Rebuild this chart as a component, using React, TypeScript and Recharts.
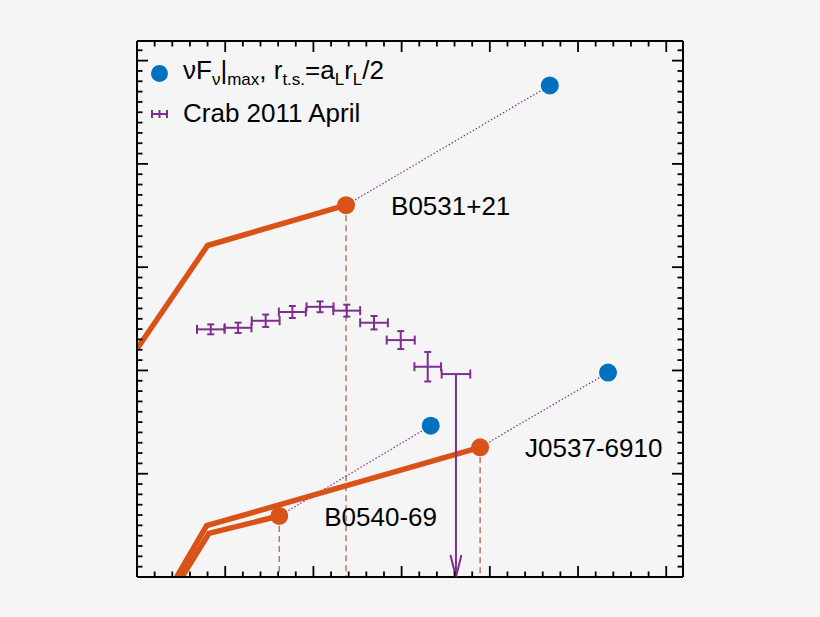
import {
  ComposedChart,
  Line,
  Scatter,
  ErrorBar,
  XAxis,
  YAxis,
  Legend,
} from "recharts";

const ORANGE = "#D95319";
const BLUE = "#0072BD";
const PURPLE = "#7E2F8E";
const DROP = "#B9745D";
const FONT = "'Liberation Sans', Arial, Helvetica, sans-serif";

// axis frame (no labels in the figure), major ticks on integers
const xDomain = [0, 6.19];
const yDomain = [0, 5.19];
const xTicks = Array.from({ length: 31 }, (_, i) => i / 5);
const yTicks = Array.from({ length: 52 }, (_, i) => i / 10);

// pulsars
const pulsarNames = ["B0531+21", "J0537-6910", "B0540-69"];
const peakX = [2.37, 3.89, 1.613];
const peakY = [3.6, 1.256, 0.591];
const maxX = [4.68, 5.34, 3.33];
const maxY = [4.76, 1.98, 1.465];

// broken power-law spectra
const crabSpectrum = [
  { x: 0, y: 2.21 },
  { x: 0.8, y: 3.21 },
  { x: 2.37, y: 3.6 },
];
const j0537Spectrum = [
  { x: 0.45, y: 0 },
  { x: 0.79, y: 0.497 },
  { x: 3.89, y: 1.256 },
];
const b0540Spectrum = [
  { x: 0.51, y: 0 },
  { x: 0.816, y: 0.423 },
  { x: 1.613, y: 0.591 },
];

// Crab 2011 April flare
const flareX = [0.836, 1.146, 1.459, 1.761, 2.075, 2.378, 2.687, 2.99, 3.296];
const flareY = [2.398, 2.413, 2.481, 2.566, 2.616, 2.579, 2.462, 2.294, 2.036];
const flareXErr = [0.156, 0.152, 0.158, 0.153, 0.153, 0.152, 0.157, 0.159, 0.151];
const flareYErr = [0.048, 0.05, 0.06, 0.058, 0.052, 0.058, 0.065, 0.087, 0.143];
const ulX = 3.616;
const ulY = 1.965;
const ulXErr = 0.162;

const peaks = pulsarNames.map((name, i) => ({ name, x: peakX[i], y: peakY[i] }));
const maxima = pulsarNames.map((name, i) => ({ name, x: maxX[i], y: maxY[i] }));
const flare = flareX.map((x, i) => ({ x, y: flareY[i], ex: flareXErr[i], ey: flareYErr[i] }));
const upperLimit = [{ x: ulX, y: ulY, ex: ulXErr }];
const upperArrow = [
  { x: ulX, y: ulY },
  { x: ulX, y: 0 },
];

const isMajor = (v: number) => Math.abs(v - Math.round(v)) < 1e-6;

const makeTick = (orient: string) => (props: any) => {
  const { x, y, payload } = props;
  const len = isMajor(payload.value) ? 11 : 5.5;
  let x2 = x;
  let y2 = y;
  if (orient === "bottom") y2 = y - len;
  if (orient === "top") y2 = y + len;
  if (orient === "left") x2 = x + len;
  if (orient === "right") x2 = x - len;
  return <line x1={x} y1={y} x2={x2} y2={y2} stroke="#000" strokeWidth={1.8} />;
};

const axisLine = { stroke: "#000", strokeWidth: 2 };

const renderLegend = () => (
  <svg width={820} height={140} style={{ display: "block" }}>
    <circle cx={159.5} cy={73.5} r={8.5} fill={BLUE} />
    <text x={183} y={79} fontFamily={FONT} fontSize={26} fill="#000">
      <tspan>νF</tspan>
      <tspan fontSize={17} dy={6}>ν</tspan>
      <tspan dy={-6}>|</tspan>
      <tspan fontSize={17} dy={6}>max</tspan>
      <tspan dy={-6}>, r</tspan>
      <tspan fontSize={17} dy={6}>t.s.</tspan>
      <tspan dy={-6}>=a</tspan>
      <tspan fontSize={17} dy={6}>L</tspan>
      <tspan dy={-6}>r</tspan>
      <tspan fontSize={17} dy={6}>L</tspan>
      <tspan dy={-6}>/2</tspan>
    </text>
    <g stroke={PURPLE} strokeWidth={2}>
      <line x1={152} y1={114} x2={167} y2={114} />
      <line x1={152} y1={110} x2={152} y2={118} />
      <line x1={159.5} y1={110} x2={159.5} y2={118} />
      <line x1={167} y1={110} x2={167} y2={118} />
    </g>
    <text x={183} y={122} fontFamily={FONT} fontSize={26} fill="#000">
      Crab 2011 April
    </text>
  </svg>
);

export default function App() {
  return (
    <div
      style={{
        position: "fixed",
        left: 0,
        top: 0,
        width: 820,
        height: 617,
        background: "#f5f5f5",
      }}
    >
      <ComposedChart
        width={820}
        height={617}
        margin={{ top: 31, right: 127, bottom: 30, left: 127 }}
      >
        <XAxis
          dataKey="x"
          type="number"
          domain={xDomain}
          ticks={xTicks}
          interval={0}
          allowDataOverflow
          height={10}
          tickSize={0}
          tickMargin={0}
          tickLine={false}
          axisLine={axisLine}
          tick={makeTick("bottom")}
        />
        <XAxis
          xAxisId="top"
          orientation="top"
          dataKey="x"
          type="number"
          domain={xDomain}
          ticks={xTicks}
          interval={0}
          allowDataOverflow
          height={10}
          tickSize={0}
          tickMargin={0}
          tickLine={false}
          axisLine={axisLine}
          tick={makeTick("top")}
        />
        <YAxis
          dataKey="y"
          type="number"
          domain={yDomain}
          ticks={yTicks}
          interval={0}
          allowDataOverflow
          width={10}
          tickSize={0}
          tickMargin={0}
          tickLine={false}
          axisLine={axisLine}
          tick={makeTick("left")}
        />
        <YAxis
          yAxisId="right"
          orientation="right"
          type="number"
          domain={yDomain}
          ticks={yTicks}
          interval={0}
          allowDataOverflow
          width={10}
          tickSize={0}
          tickMargin={0}
          tickLine={false}
          axisLine={axisLine}
          tick={makeTick("right")}
        />

        {peaks.map((p) => (
          <Line
            key={`drop-${p.name}`}
            data={[
              { x: p.x, y: p.y },
              { x: p.x, y: 0 },
            ]}
            dataKey="y"
            type="linear"
            stroke={DROP}
            strokeWidth={1.5}
            strokeDasharray="6 4"
            dot={false}
            isAnimationActive={false}
          />
        ))}
        {peaks.map((p, i) => (
          <Line
            key={`link-${p.name}`}
            data={[
              { x: p.x, y: p.y },
              { x: maxima[i].x, y: maxima[i].y },
            ]}
            dataKey="y"
            type="linear"
            stroke={PURPLE}
            strokeWidth={1.2}
            strokeDasharray="1.5 2"
            dot={false}
            isAnimationActive={false}
          />
        ))}

        {[crabSpectrum, j0537Spectrum, b0540Spectrum].map((s, i) => (
          <Line
            key={`spec-${i}`}
            data={s}
            dataKey="y"
            type="linear"
            stroke={ORANGE}
            strokeWidth={5.5}
            dot={false}
            isAnimationActive={false}
          />
        ))}

        <Scatter
          data={peaks}
          dataKey="y"
          isAnimationActive={false}
          shape={(p: any) => (
            <g>
              <circle cx={p.cx} cy={p.cy} r={9} fill={ORANGE} />
              <text
                x={p.cx + 45}
                y={p.cy + 10}
                fontFamily={FONT}
                fontSize={26}
                fill="#000"
              >
                {p.payload.name}
              </text>
            </g>
          )}
        />
        <Scatter
          data={maxima}
          dataKey="y"
          isAnimationActive={false}
          shape={(p: any) => <circle cx={p.cx} cy={p.cy} r={9} fill={BLUE} />}
        />

        <Scatter data={flare} dataKey="y" isAnimationActive={false} shape={() => <g />}>
          <ErrorBar dataKey="ex" direction="x" width={4.5} stroke={PURPLE} strokeWidth={2} />
          <ErrorBar dataKey="ey" direction="y" width={3.5} stroke={PURPLE} strokeWidth={2} />
        </Scatter>
        <Scatter data={upperLimit} dataKey="y" isAnimationActive={false} shape={() => <g />}>
          <ErrorBar dataKey="ex" direction="x" width={4.5} stroke={PURPLE} strokeWidth={2} />
        </Scatter>
        <Line
          data={upperArrow}
          dataKey="y"
          type="linear"
          stroke={PURPLE}
          strokeWidth={2}
          isAnimationActive={false}
          dot={(p: any) =>
            p.index === 1 ? (
              <path
                key="arrow-head"
                d={`M${p.cx - 5.5},${p.cy - 22} L${p.cx},${p.cy} L${p.cx + 5.5},${p.cy - 22}`}
                fill="none"
                stroke={PURPLE}
                strokeWidth={2}
              />
            ) : (
              <g key="arrow-tail" />
            )
          }
        />

        <Legend
          layout="vertical"
          align="center"
          verticalAlign="middle"
          content={renderLegend}
          wrapperStyle={{ left: 0, top: 0, width: 820, height: 140, pointerEvents: "none" }}
        />
      </ComposedChart>
    </div>
  );
}
